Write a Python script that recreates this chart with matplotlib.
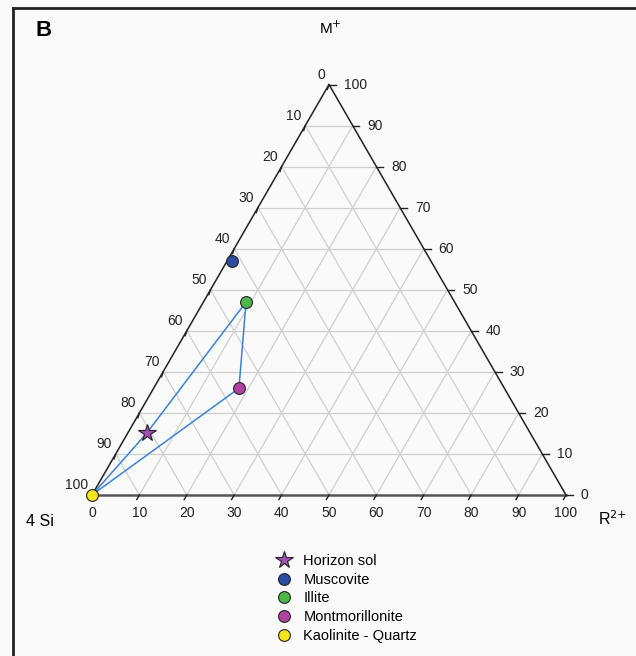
import matplotlib
matplotlib.use("Agg")
import matplotlib.pyplot as plt
import numpy as np
from matplotlib.lines import Line2D

plt.rcParams["font.family"] = ["Liberation Sans", "DejaVu Sans"]

# mineral compositions, % (4 Si, M+, R2+)
NAMES = ["Horizon sol", "Muscovite", "Illite", "Montmorillonite", "Kaolinite - Quartz"]
SI = [81, 42, 44, 56, 100]
M = [15, 57, 47, 26, 0]
R = [4, 1, 9, 18, 0]
COLORS = ["#a24fb4", "#2e4c9f", "#4db74a", "#b0439f", "#f2e41e"]
MARKERS = ["*", "o", "o", "o", "o"]

# order of the connecting outline
PATH = ["Kaolinite - Quartz", "Horizon sol", "Illite", "Montmorillonite", "Kaolinite - Quartz"]

TICKS = list(range(0, 101, 10))

W, H = 636, 656
X0, Y0, SCALE = 92, 495, 4.74  # pixel position of the 4 Si corner, px per %
SQ3 = np.sqrt(3) / 2


def tern(s, m, r):
    tot = s + m + r
    m = 100 * m / tot
    r = 100 * r / tot
    return r + m / 2, m * SQ3


def fpos(px, py):
    return px / W, 1 - py / H


def main():
    fig = plt.figure(figsize=(W / 100, H / 100), dpi=100, facecolor="#fafafa")
    ax = fig.add_axes([0, 0, 1, 1])
    ax.set_facecolor("#fafafa")
    ax.set_xlim(-X0 / SCALE, (W - X0) / SCALE)
    ax.set_ylim(-(H - Y0) / SCALE, Y0 / SCALE)
    ax.axis("off")

    # frame (right and bottom cut off in the original)
    fig.add_artist(Line2D([13 / W, 13 / W], [0, 1 - 8 / H], color="#222222", lw=2))
    fig.add_artist(Line2D([13 / W, 1], [1 - 8 / H, 1 - 8 / H], color="#222222", lw=2))

    # grid
    for v in TICKS[1:-1]:
        for a, b in [((100 - v, v, 0), (0, v, 100 - v)),
                     ((100 - v, 0, v), (0, 100 - v, v)),
                     ((v, 100 - v, 0), (v, 0, 100 - v))]:
            p, q = tern(*a), tern(*b)
            ax.plot([p[0], q[0]], [p[1], q[1]], color="#cfcfcf", lw=0.9, zorder=1)

    # edges
    c_si, c_m, c_r = tern(100, 0, 0), tern(0, 100, 0), tern(0, 0, 100)
    ax.plot([c_si[0], c_m[0], c_r[0]], [c_si[1], c_m[1], c_r[1]], color="#222222", lw=1.1, zorder=2)
    ax.plot([c_si[0], c_r[0]], [c_si[1], c_r[1]], color="#555555", lw=1.8, zorder=2)

    tl = 1.1
    fs = 10
    for v in TICKS:
        # left edge: 4 Si
        x, y = tern(v, 100 - v, 0)
        ax.plot([x, x - 0.3 * tl], [y, y - 0.95 * tl], color="#222222", lw=1.0, zorder=2)
        ax.text(x - 0.8, y + 0.6, str(v), ha="right", va="bottom", fontsize=fs, color="#222222")
        # right edge: M+
        x, y = tern(0, v, 100 - v)
        ax.plot([x, x + 1.3 * tl], [y, y], color="#222222", lw=1.0, zorder=2)
        ax.text(x + 3.1, y, str(v), ha="left", va="center", fontsize=fs, color="#222222")
        # bottom edge: R2+
        x, y = tern(100 - v, 0, v)
        ax.plot([x, x - 0.5 * tl], [y, y - 0.866 * tl], color="#222222", lw=1.0, zorder=2)
        ax.text(x, y - 3.8, str(v), ha="center", va="center", fontsize=fs, color="#222222")

    # connecting outline
    idx = [NAMES.index(n) for n in PATH]
    px, py = tern(np.array(SI, float)[idx], np.array(M, float)[idx], np.array(R, float)[idx])
    ax.plot(px, py, color="#3b82d4", lw=1.1, zorder=3)

    xs, ys = tern(np.array(SI, float), np.array(M, float), np.array(R, float))
    for name, x, y, c, mk in zip(NAMES, xs, ys, COLORS, MARKERS):
        ax.plot(x, y, marker=mk, ms=13 if mk == "*" else 8.5, color=c, mec="#222222",
                mew=0.8, ls="none", label=name, zorder=4)

    ax.legend(loc="upper left", bbox_to_anchor=fpos(275, 554), bbox_transform=fig.transFigure,
              frameon=False, fontsize=10.5, handlelength=1.2, handletextpad=0.75,
              labelspacing=0.32, borderpad=0, borderaxespad=0)

    fig.text(*fpos(44, 30), "B", fontsize=16, fontweight="bold", ha="center", va="center")
    fig.text(*fpos(330, 28), "M$^{+}$", fontsize=11, ha="center", va="center")
    fig.text(*fpos(40, 521), "4 Si", fontsize=11.5, ha="center", va="center")
    fig.text(*fpos(612, 519), "R$^{2{+}}$", fontsize=11.5, ha="center", va="center")

    fig.savefig("out.png", dpi=100, facecolor=fig.get_facecolor())
    plt.close(fig)


if __name__ == "__main__":
    main()
